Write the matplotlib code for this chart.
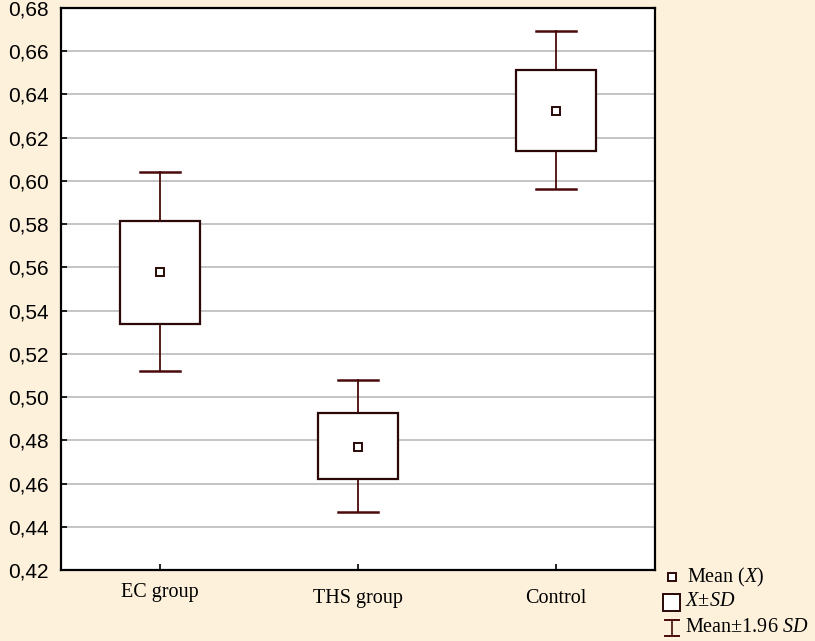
import matplotlib
matplotlib.use("Agg")
import matplotlib.pyplot as plt
from matplotlib.lines import Line2D
from matplotlib.patches import Rectangle
from matplotlib.transforms import ScaledTranslation

# values
groups = ["EC group", "THS group", "Control"]
means = [0.5578, 0.4770, 0.6324]
sd_low = [0.5340, 0.4621, 0.6140]
sd_high = [0.5815, 0.4927, 0.6513]
ci_low = [0.5121, 0.4469, 0.5963]
ci_high = [0.6043, 0.5080, 0.6695]
y_ticks = [0.42 + 0.02 * i for i in range(14)]

plt.rcParams["mathtext.fontset"] = "custom"
plt.rcParams["mathtext.rm"] = "Liberation Serif"
plt.rcParams["mathtext.it"] = "Liberation Serif:italic"

bg = "#fdf1dc"
edge = "#2a0808"
whisk = "#4a0a0a"

fig = plt.figure(figsize=(8.15, 6.41), dpi=100, facecolor=bg)
ax = fig.add_axes([61 / 815, 1 - 570 / 641, 594 / 815, 562 / 641])
ax.set_facecolor("white")

box_w = 0.4
cap_w = 0.2
for i, g in enumerate(groups):
    x = i + 1
    # whiskers
    ax.plot([x, x], [ci_low[i], sd_low[i]], color=whisk, lw=1.3, zorder=3)
    ax.plot([x, x], [sd_high[i], ci_high[i]], color=whisk, lw=1.3, zorder=3)
    ax.plot([x - cap_w / 2, x + cap_w / 2], [ci_low[i]] * 2, color=whisk, lw=1.8, zorder=3)
    ax.plot([x - cap_w / 2, x + cap_w / 2], [ci_high[i]] * 2, color=whisk, lw=1.8, zorder=3)
    # SD box
    ax.add_patch(Rectangle((x - box_w / 2, sd_low[i]), box_w, sd_high[i] - sd_low[i],
                           facecolor="white", edgecolor=edge, lw=1.6, zorder=4))
    # mean
    ax.plot(x, means[i], marker="s", ms=6, mfc="white", mec=edge, mew=1.4, zorder=5)

ax.set_xlim(0.5, 3.5)
ax.set_ylim(0.42, 0.68)
ax.set_yticks(y_ticks)
ax.set_yticklabels([f"{v:.2f}".replace(".", ",") for v in y_ticks],
                   fontfamily="Liberation Sans", fontsize=15)
ax.set_xticks([1, 2, 3])
ax.set_xticklabels(groups, fontfamily="Liberation Serif", fontsize=14.5)
ax.tick_params(axis="both", direction="in", length=4, width=1.2, color="black")
ax.tick_params(axis="x", pad=14)
ax.tick_params(axis="y", pad=9)
# the first group label sits a bit higher in the reference
lab = ax.get_xticklabels()[0]
lab.set_transform(lab.get_transform() + ScaledTranslation(0, 6 / 100, fig.dpi_scale_trans))
ax.grid(axis="y", color="#b4b4b4", lw=1.1)
ax.set_axisbelow(True)
for s in ax.spines.values():
    s.set_linewidth(1.6)
    s.set_color("black")

# legend drawn below the plot, at the right
def fx(px):
    return px / 815

def fy(py):
    return 1 - py / 641

fig.add_artist(Line2D([fx(672)], [fy(577)], marker="s", ms=6, mfc="white", mec=edge,
                      mew=1.4, transform=fig.transFigure))
fig.add_artist(Rectangle((fx(663), fy(611)), fx(17), 17 / 641, facecolor="white",
                         edgecolor=edge, lw=1.4, transform=fig.transFigure))
fig.add_artist(Line2D([fx(672), fx(672)], [fy(620), fy(636)], color=whisk, lw=1.2,
                      transform=fig.transFigure))
for py in (620, 636):
    fig.add_artist(Line2D([fx(665), fx(679)], [fy(py), fy(py)], color=whisk, lw=1.4,
                          transform=fig.transFigure))

tkw = dict(fontfamily="Liberation Serif", fontsize=14.5, va="center", ha="left")
fig.text(fx(687), fy(577), r"Mean ($\mathit{X}$)", **tkw)
fig.text(fx(685), fy(602), r"$\mathit{X}$±$\mathit{SD}$", **tkw)
fig.text(fx(685), fy(628), r"Mean±1.96 $\mathit{SD}$", **tkw)

fig.savefig("out.png", dpi=100, facecolor=bg)
